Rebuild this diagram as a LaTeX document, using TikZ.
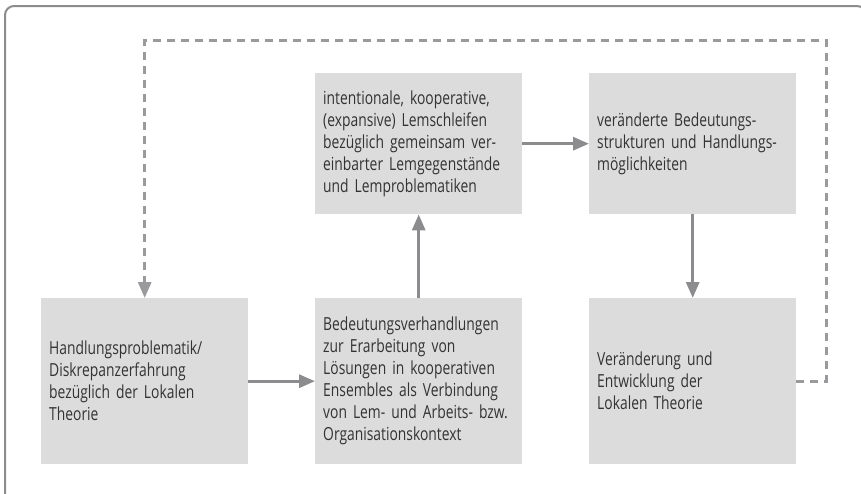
\documentclass[tikz,border=0pt]{standalone}
\usepackage{fontspec}
\setmainfont[FakeStretch=0.77]{Open Sans}
\usetikzlibrary{arrows.meta}
\definecolor{boxgray}{HTML}{DCDCDD}
\definecolor{linegray}{HTML}{8C8C8E}
\definecolor{dashgray}{HTML}{9A9A9C}
\definecolor{textgray}{HTML}{333333}
\tikzset{
  box/.style={fill=boxgray,anchor=north west,minimum width=207pt,text width=191pt,
    inner sep=8pt,align=left,text=textgray,font=\fontsize{18}{22}\selectfont},
  flow/.style={draw=linegray,line width=3pt,-{Triangle[length=16pt,width=13pt]}},
  feedback/.style={draw=dashgray,line width=3pt,dash pattern=on 8pt off 6pt,
    -{Triangle[length=16pt,width=13pt]}},
}
\begin{document}
\begin{tikzpicture}[x=1pt,y=-1pt]
  \useasboundingbox (0,0) rectangle (861,493);
  % frame
  \draw[linegray,line width=2pt,rounded corners=9pt] (5,500) -- (5,6) -- (866,6) -- (866,40);

  % top
  %boxes
  \node[box,minimum height=141pt,at={(315,73)}] (lernschleifen) {intentionale, kooperative,\\(expansive) Lemschleifen\\bezüglich gemeinsam ver-\\einbarter Lemgegenstände\\und Lemproblematiken};
  \node[box,minimum height=141pt,at={(589,73)}] (strukturen) {veränderte Bedeutungs-\\strukturen und Handlungs-\\möglichkeiten};

  % bottom
  %boxes
  \node[box,minimum height=166pt,at={(41,298)}] (problematik) {Handlungsproblematik/\\Diskrepanzerfahrung\\bezüglich der Lokalen\\Theorie};
  \node[box,minimum height=166pt,at={(315,298)}] (verhandlungen) {Bedeutungsverhandlungen\\zur Erarbeitung von\\Lösungen in kooperativen\\Ensembles als Verbindung\\von Lem- und Arbeits- bzw.\\Organisationskontext};
  \node[box,minimum height=166pt,at={(589,298)}] (theorie) {Veränderung und\\Entwicklung der\\Lokalen Theorie};

  %arrows
  \draw[flow] (problematik) -- (verhandlungen);
  \draw[flow] (verhandlungen) -- (lernschleifen);
  \draw[flow] (lernschleifen) -- (strukturen);
  \draw[flow] (strukturen) -- (theorie);

  % feedback
  \coordinate (turn) at (826,40);
  \draw[feedback] (theorie.east) -| (turn) -| (problematik.north);
\end{tikzpicture}
\end{document}
